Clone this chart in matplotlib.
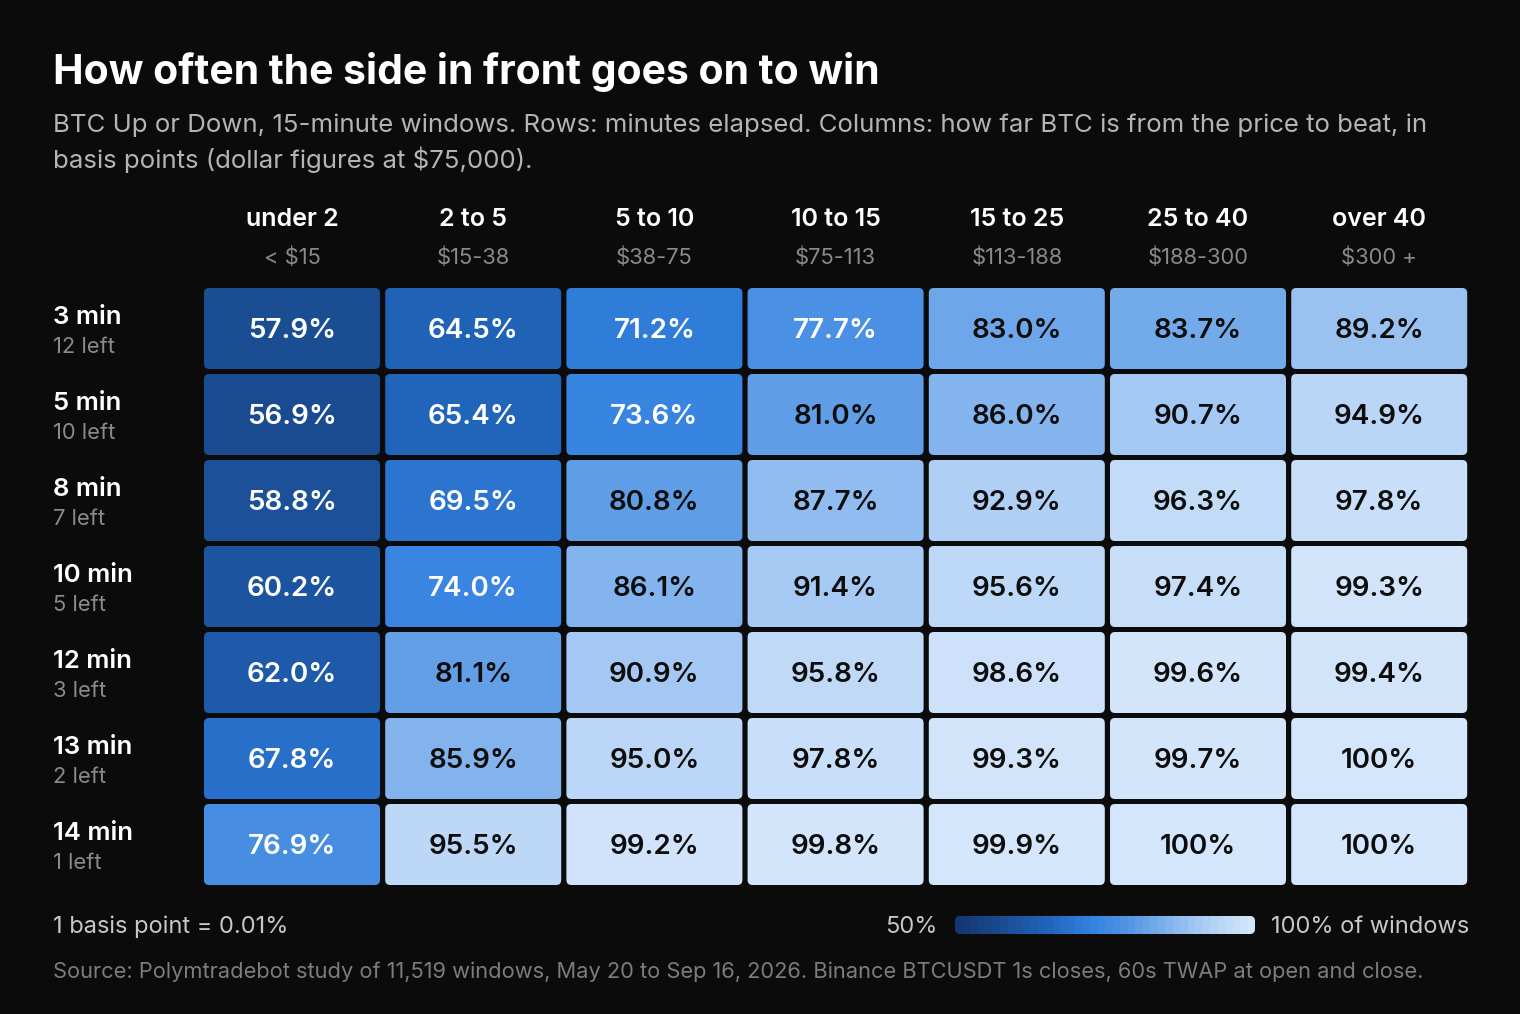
import numpy as np
import matplotlib.pyplot as plt
from matplotlib.patches import FancyBboxPatch
from matplotlib.colors import LinearSegmentedColormap

plt.rcParams['text.parse_math'] = False
plt.rcParams['font.family'] = ['Inter', 'DejaVu Sans']

# ===== DATA =====
row_labels = ["3 min", "5 min", "8 min", "10 min", "12 min", "13 min", "14 min"]
row_left = ["12 left", "10 left", "7 left", "5 left", "3 left", "2 left", "1 left"]
col_labels = ["under 2", "2 to 5", "5 to 10", "10 to 15", "15 to 25", "25 to 40", "over 40"]
col_usd = ["< $15", "$15-38", "$38-75", "$75-113", "$113-188", "$188-300", "$300 +"]

win_3 = [57.9, 64.5, 71.2, 77.7, 83.0, 83.7, 89.2]
win_5 = [56.9, 65.4, 73.6, 81.0, 86.0, 90.7, 94.9]
win_8 = [58.8, 69.5, 80.8, 87.7, 92.9, 96.3, 97.8]
win_10 = [60.2, 74.0, 86.1, 91.4, 95.6, 97.4, 99.3]
win_12 = [62.0, 81.1, 90.9, 95.8, 98.6, 99.6, 99.4]
win_13 = [67.8, 85.9, 95.0, 97.8, 99.3, 99.7, 100]
win_14 = [76.9, 95.5, 99.2, 99.8, 99.9, 100, 100]
values = np.array([win_3, win_5, win_8, win_10, win_12, win_13, win_14])

vmin, vmax = 50, 100

# ===== COLOURS =====
BG = "#0b0b0b"
cmap = LinearSegmentedColormap.from_list("win", [
    (0.00, "#143671"),
    (0.16, "#1b4d94"),
    (0.30, "#2064b9"),
    (0.45, "#3281e0"),
    (0.56, "#4c91e4"),
    (0.66, "#6ea7e9"),
    (0.80, "#9fc5f2"),
    (0.90, "#bad6f6"),
    (1.00, "#d4e6fb"),
])
norm = lambda v: (v - vmin) / (vmax - vmin)

# ===== FIGURE =====
fig = plt.figure(figsize=(15.2, 10.14), dpi=100, facecolor=BG)
ax = fig.add_axes([0, 0, 1, 1])
ax.set_xlim(0, 1520)
ax.set_ylim(1014, 0)
ax.axis('off')
ax.set_facecolor(BG)

ax.text(53, 72, "How often the side in front goes on to win", color="white",
        fontsize=29.4, fontweight='bold', va='center', ha='left')
ax.text(53, 125, "BTC Up or Down, 15-minute windows. Rows: minutes elapsed. Columns: how far BTC is from the price to beat, in",
        color="#b4b4b4", fontsize=18.6, va='center', ha='left')
ax.text(53, 160, "basis points (dollar figures at $75,000).",
        color="#b4b4b4", fontsize=18.6, va='center', ha='left')

x0, pitch_x, cw = 204, 181.2, 176
y0, pitch_y, ch = 288, 86, 81

for j, (lab, usd) in enumerate(zip(col_labels, col_usd)):
    cx = x0 + j * pitch_x + cw / 2
    ax.text(cx, 220, lab, color="white", fontsize=18, fontweight='semibold', ha='center', va='center')
    ax.text(cx, 258, usd, color="#8a8a8a", fontsize=15.8, ha='center', va='center')

for i, (lab, left) in enumerate(zip(row_labels, row_left)):
    ty = y0 + i * pitch_y
    ax.text(53, ty + 30, lab, color="white", fontsize=18.5, fontweight='semibold', ha='left', va='center')
    ax.text(53, ty + 59, left, color="#8a8a8a", fontsize=15.8, ha='left', va='center')
    for j in range(len(col_labels)):
        v = values[i, j]
        cx = x0 + j * pitch_x
        box = FancyBboxPatch((cx, ty), cw, ch, boxstyle="round,pad=0,rounding_size=5",
                             facecolor=cmap(norm(v)), edgecolor='none')
        ax.add_patch(box)
        txt = "100%" if v >= 100 else f"{v:.1f}%"
        tc = "white" if v < 79 else "#0d0d0d"
        ax.text(cx + cw / 2, ty + ch / 2 + 3, txt, color=tc, fontsize=20, fontweight='semibold',
                ha='center', va='center')

# ===== FOOTER =====
ax.text(53, 927, "1 basis point = 0.01%", color="#c8c8c8", fontsize=17, ha='left', va='center')
ax.text(937, 927, "50%", color="#c8c8c8", fontsize=17, ha='right', va='center')
ax.text(1271, 927, "100% of windows", color="#c8c8c8", fontsize=17, ha='left', va='center')

steps = np.linspace(vmin, vmax, 40)
bx0, bx1, by0, bh = 955, 1255, 916, 18
sw = (bx1 - bx0) / len(steps)
for k, s in enumerate(steps):
    ax.add_patch(plt.Rectangle((bx0 + k * sw, by0), sw + 0.6, bh, facecolor=cmap(norm(s)),
                               edgecolor='none'))
frame = FancyBboxPatch((bx0, by0), bx1 - bx0, bh, boxstyle="round,pad=0,rounding_size=5",
                       facecolor='none', edgecolor='none')
ax.add_patch(frame)
for p in ax.patches[-len(steps) - 1:-1]:
    p.set_clip_path(frame)

ax.text(53, 972, "Source: Polymtradebot study of 11,519 windows, May 20 to Sep 16, 2026. Binance BTCUSDT 1s closes, 60s TWAP at open and close.",
        color="#7c7c7c", fontsize=15.75, ha='left', va='center')

fig.savefig("out.png", dpi=100, facecolor=BG)
